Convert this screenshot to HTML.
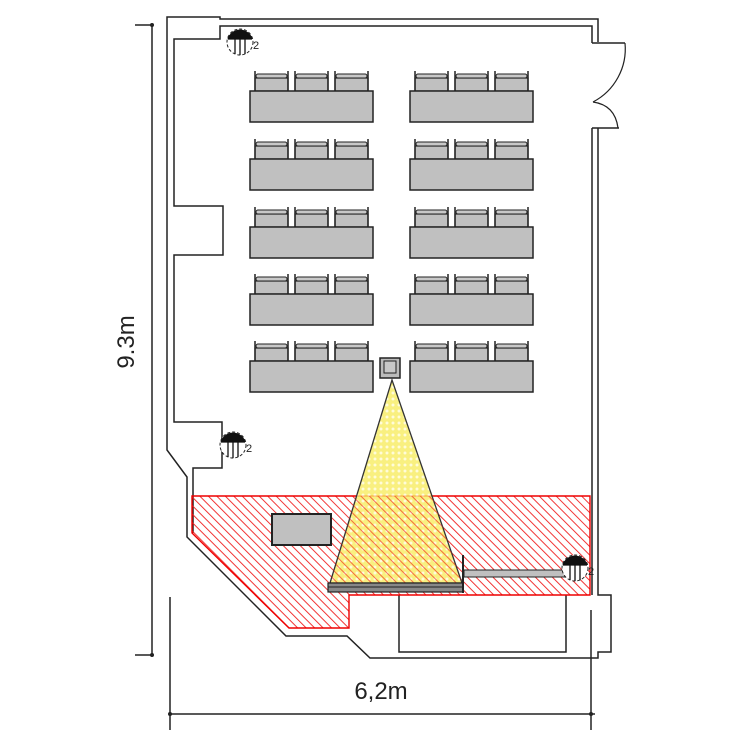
<!DOCTYPE html>
<html><head><meta charset="utf-8"><style>html,body{margin:0;padding:0;background:#fff}svg{display:block}</style></head>
<body>
<svg width="750" height="750" viewBox="0 0 750 750" xmlns="http://www.w3.org/2000/svg">
<defs>
<pattern id="hatch" patternUnits="userSpaceOnUse" width="6" height="6" patternTransform="rotate(-45)">
<line x1="0" y1="0" x2="0" y2="6" stroke="#f02020" stroke-width="1.8"/>
</pattern>
<pattern id="dots" patternUnits="userSpaceOnUse" width="6" height="6">
<rect width="6" height="6" fill="#f8ec60"/>
<circle cx="3" cy="3" r="1.5" fill="#fffbd0"/>
</pattern>
<clipPath id="stage"><polygon points="192,496 590,496 590,595 349,595 349,628 289,628 192,533"/></clipPath>
<g id="chair">
<rect x="0" y="-13" width="33" height="13" fill="#c0c0c0" stroke="#222" stroke-width="1.2"/>
<rect x="1" y="-17" width="31" height="4" rx="2" fill="#c8c8c8" stroke="#222" stroke-width="1"/>
<line x1="0" y1="-20" x2="0" y2="0" stroke="#222" stroke-width="1.5"/>
<line x1="33" y1="-20" x2="33" y2="0" stroke="#222" stroke-width="1.5"/>
</g>
<g id="tbl">
<use href="#chair" x="5"/><use href="#chair" x="45"/><use href="#chair" x="85"/>
<rect x="0" y="0" width="123" height="31" fill="#c0c0c0" stroke="#222" stroke-width="1.5"/>
</g>
<g id="light">
<circle cx="0" cy="0" r="13" fill="#fff" stroke="#222" stroke-width="1" stroke-dasharray="3,2"/>
<path d="M-12.5,-3 A13,13 0 0 1 12.5,-3 Z" fill="#111"/>
<line x1="-12" y1="-3" x2="12" y2="-3" stroke="#111" stroke-width="1.2"/>
<line x1="-5" y1="-3" x2="-5" y2="12" stroke="#111" stroke-width="1.3"/>
<line x1="0" y1="-3" x2="0" y2="13" stroke="#111" stroke-width="1.3"/>
<line x1="5" y1="-3" x2="5" y2="12" stroke="#111" stroke-width="1.3"/>
<text x="13" y="7" font-family="Liberation Sans, sans-serif" font-size="11" fill="#222">2</text>
</g>
</defs>

<g fill="none" stroke="#222" stroke-width="1.5">
<polyline points="598,42 598,19 220,19 220,17 167,17 167,450 187,477 187,537 286,636 347,636 370,658 598,658 598,652 611,652 611,595 598,595 598,128"/>
<polyline points="592,43 592,26 220,26 220,39 174,39 174,206 223,206 223,255 174,255 174,422 222,422 222,468 193,468 193,533"/>
<polyline points="592,128 592,595"/>
<polyline points="592,43 625,43"/>
<polyline points="592,128 619,128"/>
<path d="M625,43 A60,60 0 0 1 593,102" stroke-width="1.2"/>
<path d="M593,102 Q615,105 618,128" stroke-width="1.2"/>
<polyline points="399,595 399,652 566,652 566,595"/>
</g>

<use href="#tbl" x="250" y="91"/><use href="#tbl" x="410" y="91"/>
<use href="#tbl" x="250" y="159"/><use href="#tbl" x="410" y="159"/>
<use href="#tbl" x="250" y="227"/><use href="#tbl" x="410" y="227"/>
<use href="#tbl" x="250" y="294"/><use href="#tbl" x="410" y="294"/>
<use href="#tbl" x="250" y="361"/><use href="#tbl" x="410" y="361"/>

<rect x="380" y="358" width="20" height="20" fill="#bbb" stroke="#222" stroke-width="1.5"/>
<rect x="384" y="361" width="12" height="12" fill="#c8c8c8" stroke="#222" stroke-width="1"/>

<polygon points="192,496 590,496 590,595 349,595 349,628 289,628 192,533" fill="url(#hatch)" stroke="#e00" stroke-width="1.4"/>
<polygon points="392,380 330,583 462,583" fill="url(#dots)" fill-opacity="0.8" stroke="#333" stroke-width="1.3"/>
<g clip-path="url(#stage)">
<polygon points="392,380 330,583 462,583" fill="url(#hatch)" fill-opacity="0.6"/>
</g>

<rect x="272" y="514" width="59" height="31" fill="#c0c0c0" stroke="#222" stroke-width="2"/>

<rect x="328" y="583" width="135" height="9" fill="#888" stroke="#222" stroke-width="1.2"/>
<line x1="328" y1="587" x2="463" y2="587" stroke="#222" stroke-width="1"/>
<line x1="463" y1="555" x2="463" y2="593" stroke="#222" stroke-width="2"/>
<rect x="464" y="570" width="106" height="7" fill="#c0c0c0" stroke="#222" stroke-width="1"/>

<use href="#light" x="240" y="42"/>
<use href="#light" x="233" y="445"/>
<use href="#light" x="575" y="568"/>

<g stroke="#222" stroke-width="1.5" fill="none">
<line x1="152" y1="25" x2="152" y2="655"/>
<line x1="135" y1="25" x2="152" y2="25"/>
<line x1="135" y1="655" x2="152" y2="655"/>
<line x1="170" y1="597" x2="170" y2="730"/>
<line x1="591" y1="610" x2="591" y2="730"/>
<line x1="170" y1="714" x2="595" y2="714"/>
</g>
<circle cx="152" cy="25" r="2" fill="#222"/>
<circle cx="152" cy="655" r="2" fill="#222"/>
<circle cx="170" cy="714" r="2" fill="#222"/>
<circle cx="591" cy="714" r="2" fill="#222"/>
<text x="0" y="0" transform="translate(134,342) rotate(-90)" text-anchor="middle" font-family="Liberation Sans, sans-serif" font-size="24" fill="#222">9.3m</text>
<text x="381" y="699" text-anchor="middle" font-family="Liberation Sans, sans-serif" font-size="24" fill="#222">6,2m</text>
</svg>
</body></html>
